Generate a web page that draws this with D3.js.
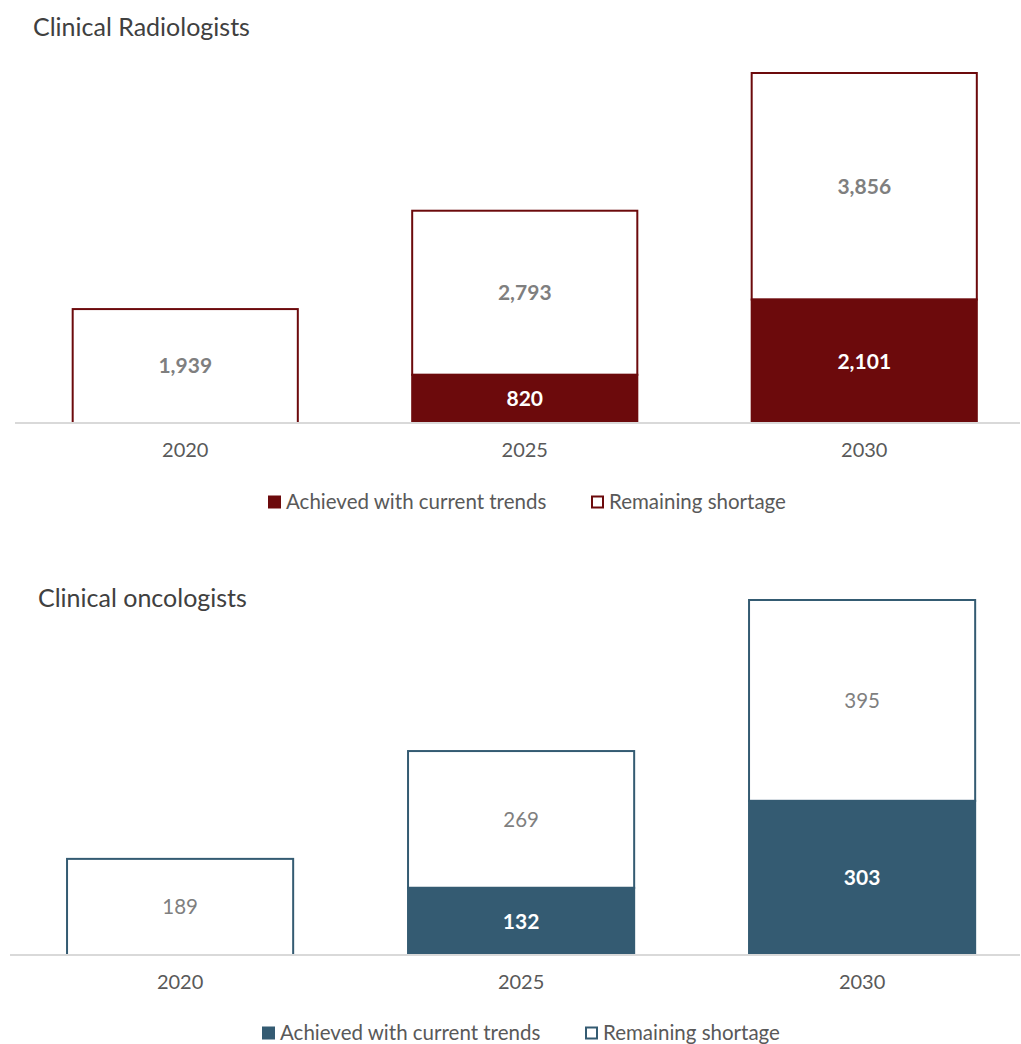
<!DOCTYPE html>
<html>
<head>
<meta charset="utf-8">
<script src="https://cdn.jsdelivr.net/npm/d3@7"></script>
<style>
  body { margin: 0; background: #fff; }
  svg { font-family: Lato, "Open Sans", sans-serif; }
</style>
</head>
<body>
<script>
// data
var years = ["2020", "2025", "2030"];
var radAchieved = [0, 820, 2101];
var radShortage = [1939, 2793, 3856];
var oncAchieved = [0, 132, 303];
var oncShortage = [189, 269, 395];
var legendLabels = ["Achieved with current trends", "Remaining shortage"];

var width = 1021, height = 1044;
var svg = d3.select("body").append("svg")
    .attr("width", width)
    .attr("height", height);

var fmt = d3.format(",");

function drawChart(cfg) {
  var g = svg.append("g");

  var x = d3.scaleBand()
      .domain(years)
      .range([cfg.x0, cfg.x0 + cfg.xw])
      .paddingInner(0.331)
      .paddingOuter(0.1655);

  var y = d3.scaleLinear()
      .domain([0, cfg.ymax])
      .range([cfg.base, cfg.top]);

  g.append("text")
      .attr("x", cfg.titleX)
      .attr("y", cfg.titleY)
      .attr("fill", "#404040")
      .style("font-size", "25px")
      .text(cfg.title);

  var rows = years.map(function(yr, i) {
    return { year: yr, a: cfg.achieved[i], s: cfg.shortage[i] };
  });

  // remaining shortage (outlined)
  g.selectAll(".short")
    .data(rows)
    .enter()
    .append("rect")
      .attr("class", "short")
      .attr("x", d => x(d.year) + 1)
      .attr("y", d => y(d.a + d.s) + 1)
      .attr("width", x.bandwidth() - 2)
      .attr("height", d => y(d.a) - y(d.a + d.s))
      .attr("fill", "#fff")
      .attr("stroke", cfg.color)
      .attr("stroke-width", 2);

  // achieved (filled)
  g.selectAll(".ach")
    .data(rows.filter(d => d.a > 0))
    .enter()
    .append("rect")
      .attr("class", "ach")
      .attr("x", d => x(d.year))
      .attr("y", d => y(d.a))
      .attr("width", x.bandwidth())
      .attr("height", d => y(0) - y(d.a))
      .attr("fill", cfg.color);

  // baseline
  g.append("line")
      .attr("x1", cfg.lineX0)
      .attr("x2", 1020)
      .attr("y1", cfg.base + 1)
      .attr("y2", cfg.base + 1)
      .attr("stroke", "#d9d9d9")
      .attr("stroke-width", 2);

  // labels
  g.selectAll(".slab")
    .data(rows)
    .enter()
    .append("text")
      .attr("x", d => x(d.year) + x.bandwidth() / 2)
      .attr("y", d => (y(d.a) + y(d.a + d.s)) / 2)
      .attr("dy", "0.4em")
      .attr("text-anchor", "middle")
      .attr("fill", "#7f7f7f")
      .style("font-size", cfg.boldShort ? "21px" : "20.5px")
      .style("font-weight", cfg.boldShort ? "bold" : "normal")
      .text(d => fmt(d.s));

  g.selectAll(".alab")
    .data(rows.filter(d => d.a > 0))
    .enter()
    .append("text")
      .attr("x", d => x(d.year) + x.bandwidth() / 2)
      .attr("y", d => (y(0) + y(d.a)) / 2)
      .attr("dy", "0.4em")
      .attr("text-anchor", "middle")
      .attr("fill", "#fff")
      .style("font-size", "21px")
      .style("font-weight", "bold")
      .text(d => fmt(d.a));

  // x axis
  var axis = g.append("g")
      .attr("transform", "translate(0," + (cfg.base + 2) + ")")
      .call(d3.axisBottom(x).tickSize(0).tickPadding(19));
  axis.select(".domain").remove();
  axis.selectAll("text")
      .attr("fill", "#595959")
      .style("font-size", "20px")
      .style("font-family", "Lato, 'Open Sans', sans-serif");

  // legend
  var leg = g.append("g").attr("transform", "translate(0," + cfg.legY + ")");
  leg.append("rect")
      .attr("x", cfg.legX)
      .attr("y", -6.5)
      .attr("width", 13)
      .attr("height", 13)
      .attr("fill", cfg.color);
  leg.append("text")
      .attr("x", cfg.legX + 18)
      .attr("dy", "0.35em")
      .attr("fill", "#595959")
      .style("font-size", "20.5px")
      .text(legendLabels[0]);
  leg.append("rect")
      .attr("x", cfg.legX + 324)
      .attr("y", -5.5)
      .attr("width", 11)
      .attr("height", 11)
      .attr("fill", "#fff")
      .attr("stroke", cfg.color)
      .attr("stroke-width", 2);
  leg.append("text")
      .attr("x", cfg.legX + 341)
      .attr("dy", "0.35em")
      .attr("fill", "#595959")
      .style("font-size", "20.5px")
      .text(legendLabels[1]);
}

drawChart({
  title: "Clinical Radiologists", titleX: 33, titleY: 36,
  achieved: radAchieved, shortage: radShortage,
  color: "#6c0a0c", ymax: 5957, base: 422, top: 72,
  x0: 15.5, xw: 1018.5, lineX0: 15, legX: 268, legY: 502, boldShort: true
});

drawChart({
  title: "Clinical oncologists", titleX: 38, titleY: 607,
  achieved: oncAchieved, shortage: oncShortage,
  color: "#345b72", ymax: 698, base: 954, top: 599,
  x0: 9.6, xw: 1023, lineX0: 10, legX: 262, legY: 1033, boldShort: false
});
</script>
</body>
</html>
